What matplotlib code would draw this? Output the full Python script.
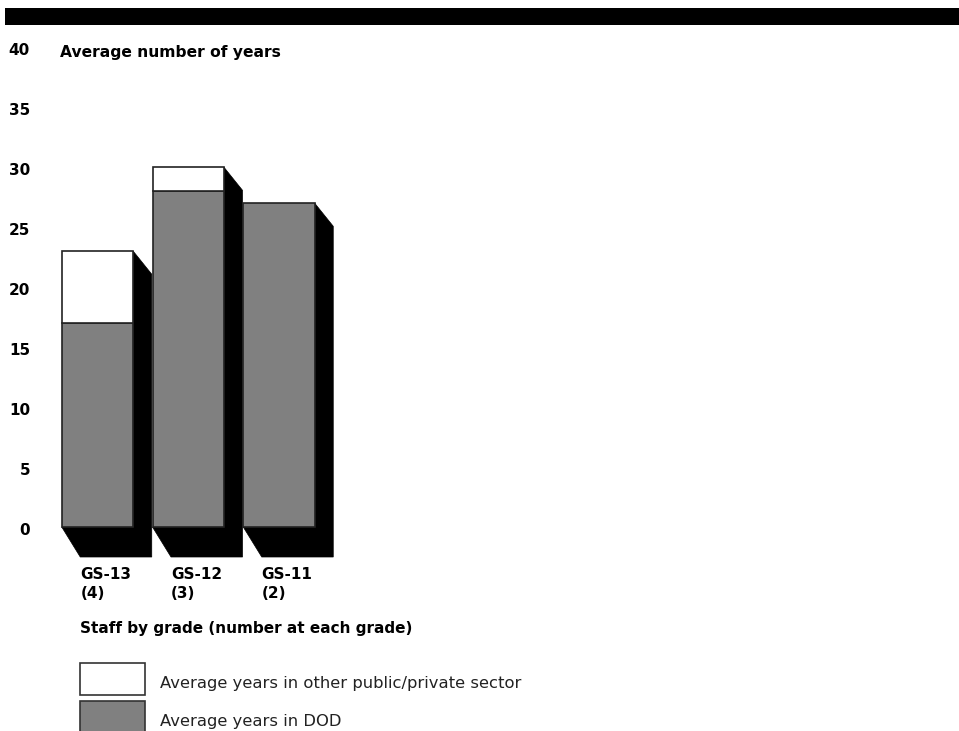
import matplotlib
matplotlib.use("Agg")
import matplotlib.pyplot as plt
from matplotlib.patches import Polygon, Rectangle

categories = ["GS-13\n(4)", "GS-12\n(3)", "GS-11\n(2)"]
dod_years = [17, 28, 27]
other_years = [6, 2, 0]
yticks = [0, 5, 10, 15, 20, 25, 30, 35, 40]
legend_labels = ["Average years in other public/private sector", "Average years in DOD"]
y_title = "Average number of years"
x_title = "Staff by grade (number at each grade)"

W, H = 959, 731
fig = plt.figure(figsize=(W / 100, H / 100), dpi=100)
ax = fig.add_axes([0, 0, 1, 1])
ax.set_axis_off()

# pixel mapping
pitch = 90.75          # px per category
x0_px = 97.5           # center of first bar (px from left)
ppu = 11.99            # px per year
y0_px = 527            # zero line (px from top)
ax.set_xlim(-x0_px / pitch, (W - x0_px) / pitch)
ax.set_ylim(-(H - y0_px) / ppu, y0_px / ppu)

def px_x(p):
    return (p - x0_px) / pitch

def dx_units(p):
    return p / pitch

def dy_units(p):
    return p / ppu

bw = 71.5 / pitch
sdx = dx_units(18.5)
sdy_top = dy_units(23)
sdy_bot = dy_units(30)

gray = "#808080"
font = "DejaVu Sans"

xs = list(range(len(categories)))
# shadows
for x, d, o in zip(xs, dod_years, other_years):
    L, R = x - bw / 2, x + bw / 2
    T = d + o
    poly = Polygon([(R, T), (R + sdx, T - sdy_top), (R + sdx, -sdy_bot),
                    (L + sdx, -sdy_bot), (L, 0), (R, 0)],
                   closed=True, facecolor="black", edgecolor="black", lw=0.5, zorder=1)
    ax.add_patch(poly)

ax.bar(xs, dod_years, width=bw, color=gray, edgecolor="#222222", linewidth=1.2, zorder=2)
for x, d, o in zip(xs, dod_years, other_years):
    if o > 0:
        ax.bar([x], [o], bottom=[d], width=bw, color="white", edgecolor="#222222",
               linewidth=1.2, zorder=2)

# y tick labels
for t in yticks:
    ax.text(px_x(30), t - dy_units(3.5), str(t), ha="right", va="center",
            fontsize=11, fontweight="bold", family=font)

ax.text(px_x(60), 40 - dy_units(5), y_title, ha="left", va="center",
        fontsize=11.2, fontweight="bold", family=font)

# category labels
for x, c in zip(xs, categories):
    ax.text(x - bw / 2 + sdx, -dy_units(40), c, ha="left", va="top",
            fontsize=11, fontweight="bold", family=font, linespacing=1.3)

ax.text(px_x(80), -dy_units(101), x_title, ha="left", va="center",
        fontsize=11, fontweight="bold", family=font)

# top black band
ax.add_patch(Rectangle((px_x(5), y0_px / ppu - dy_units(25)), dx_units(W), dy_units(17),
                       facecolor="black", edgecolor="none", zorder=3))

# legend
leg_fc = ["white", gray]
leg_top = [663, 701]
for fc, top, lab in zip(leg_fc, leg_top, legend_labels):
    ax.add_patch(Rectangle((px_x(80), (y0_px - top - 32) / ppu), dx_units(65), dy_units(32),
                           facecolor=fc, edgecolor="#333333", lw=1.2, zorder=3, clip_on=False))
    ax.text(px_x(160), (y0_px - top - 20.5) / ppu, lab, ha="left", va="center",
            fontsize=11.75, family=font, color="#222222")

fig.savefig("out.png", dpi=100)
